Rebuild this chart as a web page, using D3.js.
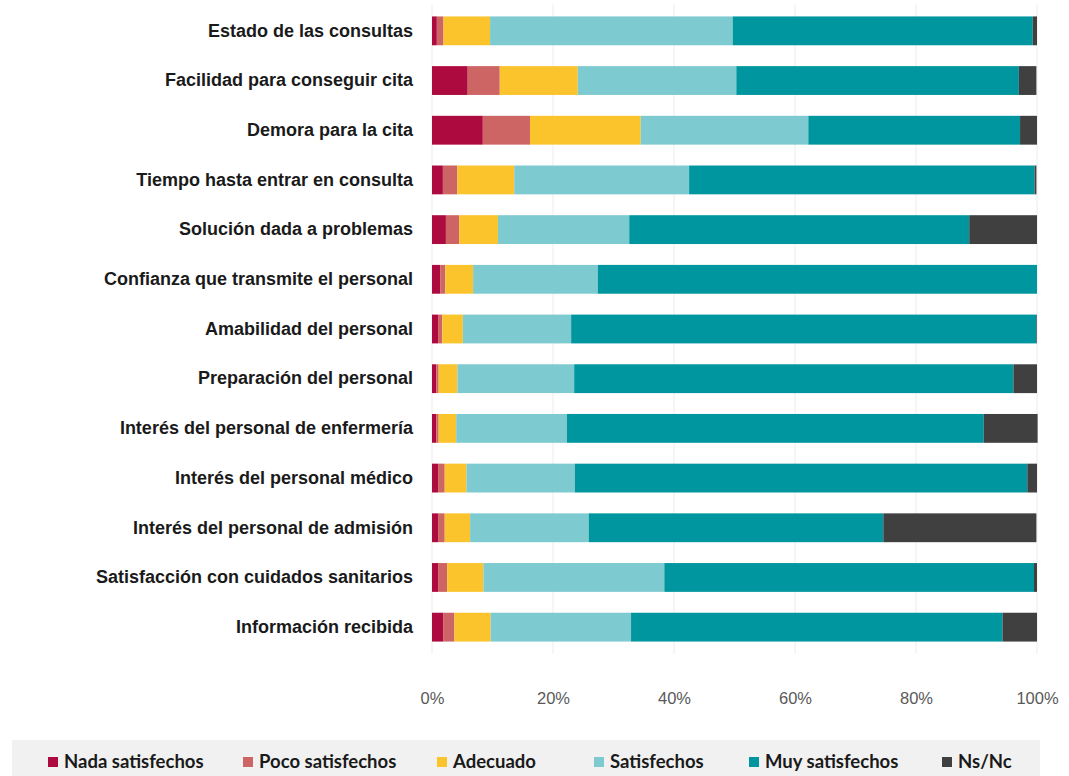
<!DOCTYPE html>
<html>
<head>
<meta charset="utf-8">
<script src="https://cdn.jsdelivr.net/npm/d3@7"></script>
<style>
  body { margin: 0; background: #fff; }
  svg { display: block; font-family: Lato, "Open Sans", sans-serif; }
</style>
</head>
<body>
<div id="chart"></div>
<script>
// Categories, top to bottom
const categories = [
  'Estado de las consultas',
  'Facilidad para conseguir cita',
  'Demora para la cita',
  'Tiempo hasta entrar en consulta',
  'Solución dada a problemas',
  'Confianza que transmite el personal',
  'Amabilidad del personal',
  'Preparación del personal',
  'Interés del personal de enfermería',
  'Interés del personal médico',
  'Interés del personal de admisión',
  'Satisfacción con cuidados sanitarios',
  'Información recibida',
];

const seriesNames = [
  'Nada satisfechos',
  'Poco satisfechos',
  'Adecuado',
  'Satisfechos',
  'Muy satisfechos',
  'Ns/Nc',
];

// Percentages per series, same order as categories
const nada = [0.8, 5.9, 8.4, 1.8, 2.3, 1.4, 1.0, 0.7, 0.7, 1.0, 1.0, 1.0, 1.9];
const poco = [1.1, 5.3, 7.8, 2.4, 2.2, 0.8, 0.7, 0.4, 0.4, 1.1, 1.1, 1.5, 1.8];
const adecuado = [7.7, 12.9, 18.3, 9.4, 6.4, 4.6, 3.4, 3.1, 2.9, 3.6, 4.2, 6.0, 6.0];
const satisfechos = [40.1, 26.2, 27.7, 28.9, 21.7, 20.6, 17.9, 19.3, 18.3, 17.9, 19.6, 29.9, 23.2];
const muySatisfechos = [49.6, 46.7, 35.0, 57.1, 56.2, 72.6, 76.9, 72.6, 68.9, 74.8, 48.7, 61.1, 61.4];
const nsnc = [0.7, 2.9, 2.8, 0.3, 11.2, 0.0, 0.1, 3.9, 8.9, 1.6, 25.3, 0.5, 5.7];

const tickValues = [0, 20, 40, 60, 80, 100];

const colors = ['#ad0a3f', '#cd6565', '#fbc42c', '#7dcad0', '#00969f', '#404040'];

// Build table for the stack layout
const seriesValues = [nada, poco, adecuado, satisfechos, muySatisfechos, nsnc];
const table = categories.map((c, i) => {
  const row = { category: c };
  seriesNames.forEach((s, j) => (row[s] = seriesValues[j][i]));
  return row;
});

const width = 1069;
const height = 776;
const margin = { top: 6, right: 32, bottom: 120, left: 432 };

const svg = d3
  .select('#chart')
  .append('svg')
  .attr('width', width)
  .attr('height', height);

const x = d3
  .scaleLinear()
  .domain([0, 100])
  .range([margin.left, width - margin.right]);

const y = d3
  .scaleBand()
  .domain(categories)
  .range([margin.top, height - margin.bottom - 4])
  .paddingInner(0.42)
  .paddingOuter(0.21);

// Vertical grid lines
svg
  .append('g')
  .selectAll('line')
  .data(tickValues)
  .enter()
  .append('line')
  .attr('x1', (d) => x(d))
  .attr('x2', (d) => x(d))
  .attr('y1', y(categories[0]) - 12)
  .attr('y2', y(categories[categories.length - 1]) + y.bandwidth() + 12)
  .attr('stroke', '#ececec')
  .attr('stroke-width', 1);

// Stacked bars
const stack = d3.stack().keys(seriesNames);
const stacked = stack(table);

svg
  .append('g')
  .selectAll('g')
  .data(stacked)
  .enter()
  .append('g')
  .attr('fill', (d, i) => colors[i])
  .selectAll('rect')
  .data((d) => d)
  .enter()
  .append('rect')
  .attr('x', (d) => x(d[0]))
  .attr('width', (d) => Math.max(0, x(d[1]) - x(d[0])))
  .attr('y', (d) => y(d.data.category))
  .attr('height', y.bandwidth());

// Category labels
const yAxis = svg
  .append('g')
  .attr('transform', `translate(${margin.left},0)`)
  .call(d3.axisLeft(y).tickSize(0).tickPadding(19));
yAxis.select('.domain').remove();
yAxis
  .selectAll('text')
  .attr('fill', '#1a1a1a')
  .style('font-size', '18px')
  .style('font-weight', 'bold');

// Percentage axis
const xAxis = svg
  .append('g')
  .attr('transform', `translate(0,${y(categories[categories.length - 1]) + y.bandwidth() + 48})`)
  .call(
    d3
      .axisBottom(x)
      .tickValues(tickValues)
      .tickSize(0)
      .tickFormat((d) => d + '%'),
  );
xAxis.select('.domain').remove();
xAxis
  .selectAll('text')
  .attr('fill', '#595959')
  .style('font-size', '16.5px');

// Legend
const legendY = 762;
svg
  .append('rect')
  .attr('x', 12)
  .attr('y', 740)
  .attr('width', 1028)
  .attr('height', 40)
  .attr('fill', '#f1f1f1');

const legendX = [48, 243, 437, 594, 749, 942];
const legend = svg
  .selectAll('.legend')
  .data(seriesNames)
  .enter()
  .append('g')
  .attr('class', 'legend')
  .attr('transform', (d, i) => `translate(${legendX[i]},${legendY})`);

legend
  .append('rect')
  .attr('x', 0)
  .attr('y', -5)
  .attr('width', 10)
  .attr('height', 10)
  .attr('fill', (d, i) => colors[i]);

legend
  .append('text')
  .attr('x', 16)
  .attr('dy', '.35em')
  .attr('fill', '#1a1a1a')
  .style('font-size', '18.5px')
  .style('font-weight', 'bold')
  .text((d) => d);
</script>
</body>
</html>
